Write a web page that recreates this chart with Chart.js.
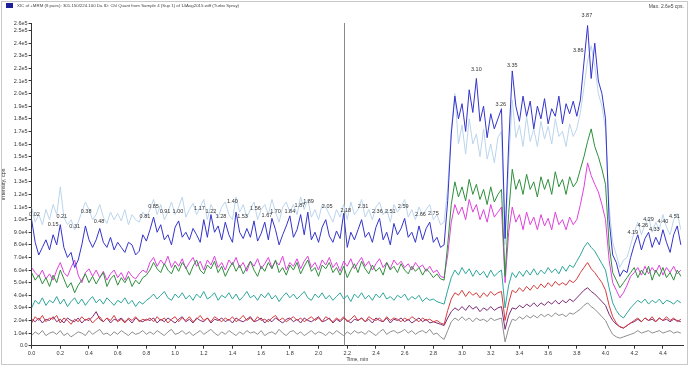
<!DOCTYPE html>
<html>
<head>
<meta charset="utf-8">
<script src="https://cdn.jsdelivr.net/npm/chart.js@4.4.1/dist/chart.umd.min.js"></script>
<style>
  html, body { margin: 0; padding: 0; background: #fff; }
  #wrap { width: 689px; height: 366px; }
</style>
</head>
<body>
<div id="wrap"><canvas id="xicChart" width="689" height="366"></canvas></div>
<script>
// retention time axis (min)
const times = [
  0.000, 0.025, 0.050, 0.075, 0.100, 0.125, 0.150, 0.175, 0.200, 0.225,
  0.250, 0.275, 0.300, 0.325, 0.350, 0.375, 0.400, 0.425, 0.450, 0.475,
  0.500, 0.525, 0.550, 0.575, 0.600, 0.625, 0.650, 0.675, 0.700, 0.725,
  0.750, 0.775, 0.800,
  0.825, 0.850, 0.875, 0.900, 0.925, 0.950, 0.975, 1.000, 1.025, 1.050,
  1.075, 1.100, 1.125, 1.150, 1.175, 1.200, 1.225, 1.250, 1.275, 1.300,
  1.325, 1.350, 1.375, 1.400, 1.425, 1.450, 1.475, 1.500, 1.525, 1.550,
  1.575, 1.600, 1.625, 1.650, 1.675, 1.700, 1.725, 1.750, 1.775, 1.800,
  1.825, 1.850, 1.875, 1.900, 1.925, 1.950, 1.975, 2.000, 2.025, 2.050,
  2.075, 2.100, 2.125, 2.150, 2.175, 2.200, 2.225, 2.250, 2.275, 2.300,
  2.325, 2.350, 2.375, 2.400, 2.425, 2.450, 2.475, 2.500, 2.525, 2.550,
  2.575, 2.600, 2.625, 2.650, 2.675, 2.700, 2.725, 2.750, 2.775, 2.800,
  2.825, 2.850, 2.875,
  2.900, 2.925, 2.950, 2.975, 3.000, 3.025, 3.050, 3.075, 3.100, 3.125,
  3.150, 3.175, 3.200, 3.225, 3.250, 3.275, 3.300, 3.325, 3.350, 3.375,
  3.400, 3.425, 3.450, 3.475, 3.500, 3.525, 3.550, 3.575, 3.600, 3.625,
  3.650, 3.675, 3.700, 3.725, 3.750, 3.775, 3.800, 3.825, 3.850, 3.875,
  3.900, 3.925, 3.950, 3.975, 4.000, 4.025, 4.050, 4.075, 4.100, 4.125,
  4.150, 4.175, 4.200, 4.225, 4.250, 4.275, 4.300, 4.325, 4.350, 4.375,
  4.400, 4.425, 4.450, 4.475, 4.500, 4.525
];

// intensities in thousands of cps, one array per MRM pair
const blueTrace = [
  100, 82, 72, 78, 84, 76, 88, 80, 96, 78, 70, 74, 62, 68, 80, 95, 84, 78, 84, 93,
  82, 78, 86, 76, 82, 78, 74, 82, 80, 72, 75, 88, 83,
  92, 102, 90, 96, 84, 88, 80, 94, 99, 86,
  90, 84, 93, 88, 82, 100, 86, 104, 90, 95,
  84, 98, 88, 82, 106, 90, 85, 93, 86, 99,
  83, 89, 98, 84, 101, 92, 80, 88, 95, 103,
  86, 92, 104, 88, 106, 84, 90, 82, 94, 100,
  87, 82, 91, 85, 105, 78, 90, 84, 92, 100,
  86, 90, 82, 94, 101, 84, 90, 80, 97, 88,
  93, 101, 86, 90, 82, 95, 84, 93, 98, 82,
  86, 78, 80,
  115, 168, 198, 180, 192, 170, 203, 185, 212, 178,
  190, 165, 184, 172, 180, 188, 85, 160, 218, 190,
  178, 198, 182, 194, 172, 190, 180, 196, 176, 188,
  182, 198, 176, 192, 184, 194, 182, 195, 225, 254,
  212, 240, 210, 200, 180, 100, 72, 66, 55, 60,
  58, 70, 80, 88, 76, 85, 90, 78, 86, 80,
  92, 82, 74, 88, 95, 80
];
const lightBlueTrace = [
  110, 98, 104, 96, 108, 100, 112, 104, 126, 102, 96, 100, 92, 98, 106, 114, 108, 100, 104, 112,
  102, 97, 106, 100, 105, 99, 108, 96, 104, 100, 98, 106, 102,
  108, 116, 104, 112, 100, 106, 114, 104, 110, 118,
  102, 108, 113, 104, 110, 116, 100, 112, 106, 102,
  110, 114, 104, 100, 118, 106, 112, 102, 108, 114,
  100, 108, 112, 104, 116, 106, 98, 110, 114, 106,
  112, 104, 118, 108, 116, 102, 108, 100, 112, 110,
  104, 98, 108, 102, 112, 100, 114, 104, 108, 116,
  102, 108, 100, 110, 114, 104, 108, 98, 112, 106,
  110, 116, 102, 108, 100, 110, 104, 108, 112, 100,
  104, 96, 98,
  125, 172, 200, 160, 175, 152, 180, 160, 168, 150,
  172, 148, 160, 145, 165, 170, 80, 145, 195, 165,
  175, 158, 182, 162, 172, 158, 178, 164, 174, 160,
  180, 166, 170, 158, 176, 166, 172, 185, 205, 226,
  238, 222, 200, 190, 172, 110, 82, 72, 62, 68,
  70, 80, 90, 98, 88, 96, 102, 90, 98, 92,
  104, 94, 88, 100, 105, 92
];
const greenTrace = [
  58, 52, 56, 49, 54, 47, 56, 50, 60, 53, 46, 50, 42, 48, 52, 57, 50, 55, 49, 54,
  58, 47, 53, 56, 48, 54, 50, 55, 47, 52, 49, 54, 56,
  60, 66, 61, 58, 65, 60, 57, 64, 59, 66,
  62, 56, 63, 68, 60, 57, 64, 61, 67, 58,
  63, 55, 61, 66, 59, 64, 57, 62, 67, 60,
  55, 63, 59, 66, 61, 68, 58, 62, 56, 64,
  60, 66, 57, 63, 68, 59, 62, 55, 64, 61,
  66, 58, 62, 56, 63, 54, 60, 65, 58, 67,
  61, 57, 64, 59, 62, 56, 66, 60, 63, 58,
  65, 60, 57, 63, 59, 62, 56, 61, 58, 54,
  57, 53, 52,
  80, 112, 130, 118, 126, 115, 132, 120, 128, 116,
  124, 112, 126, 114, 120, 124, 55, 105, 140, 124,
  132, 120, 136, 124, 130, 118, 134, 124, 132, 120,
  138, 126, 132, 120, 134, 126, 130, 140, 150, 162,
  172, 158, 150, 140, 128, 80, 58, 52, 46, 50,
  54, 58, 62, 54, 60, 56, 63, 52, 60, 55,
  62, 54, 58, 52, 60, 55
];
const magentaTrace = [
  62, 58, 55, 60, 53, 57, 52, 60, 66, 58, 55, 62, 68, 56, 50, 58, 61, 55, 60, 54,
  59, 52, 57, 60, 54, 58, 52, 59, 55, 53, 57, 60, 58,
  66, 70, 63, 68, 64, 71, 62, 67, 63, 69,
  61, 66, 70, 63, 67, 60, 68, 64, 71, 62,
  66, 60, 68, 64, 70, 62, 66, 59, 67, 63,
  69, 61, 65, 70, 62, 67, 64, 71, 60, 66,
  63, 69, 61, 67, 71, 62, 66, 60, 68, 64,
  70, 62, 66, 59, 67, 63, 69, 61, 66, 70,
  63, 67, 60, 65, 69, 62, 66, 61, 68, 64,
  67, 62, 65, 60, 66, 62, 64, 59, 63, 58,
  60, 55, 54,
  72, 98, 112, 104, 110, 100, 116, 106, 112, 100,
  108, 98, 112, 102, 106, 110, 50, 90, 110, 98,
  104, 92, 106, 96, 102, 92, 104, 95, 101, 92,
  106, 96, 100, 92, 102, 96, 100, 112, 126, 145,
  135, 128, 122, 112, 100, 68, 50, 44, 38, 42,
  48, 55, 58, 62, 56, 63, 57, 62, 58, 64,
  56, 62, 58, 63, 57, 60
];
const tealTrace = [
  30, 36, 33, 38, 32, 36, 34, 39, 33, 37, 31, 35, 38, 33, 37, 32, 36, 39, 34, 37,
  33, 38, 35, 32, 36, 34, 38, 33, 36, 31, 35, 33, 36,
  38, 41, 37, 40, 43, 38, 36, 41, 38, 42,
  37, 40, 36, 41, 38, 43, 37, 39, 42, 36,
  40, 38, 42, 37, 41, 36, 39, 43, 38, 40,
  36, 41, 38, 42, 37, 40, 35, 39, 42, 38,
  41, 37, 40, 43, 38, 36, 41, 38, 42, 37,
  40, 36, 39, 42, 37, 40, 35, 41, 38, 42,
  37, 40, 36, 41, 38, 42, 37, 39, 36, 40,
  38, 41, 36, 39, 37, 40, 35, 38, 36, 37,
  35, 34, 33,
  44, 54, 60, 56, 62, 57, 61, 55, 60, 56,
  59, 54, 60, 55, 58, 60, 30, 48, 58, 54,
  59, 55, 60, 56, 61, 56, 60, 57, 62, 58,
  61, 57, 63, 59, 64, 62, 67, 72, 78, 82,
  78, 75, 70, 65, 60, 46, 34, 28, 24, 22,
  26, 30, 33, 36, 34, 37, 33, 36, 34, 37,
  33, 36, 35, 33, 36, 34
];
const redTrace = [
  18, 23, 20, 24, 19, 22, 21, 24, 18, 22, 20, 17, 21, 19, 23, 20, 22, 18, 21, 23,
  19, 22, 20, 24, 19, 21, 18, 22, 20, 23, 19, 21, 20,
  22, 19, 23, 20, 22, 18, 21, 23, 19, 22,
  20, 23, 19, 21, 24, 20, 22, 19, 23, 21,
  19, 22, 20, 23, 19, 21, 24, 20, 22, 19,
  23, 20, 21, 19, 22, 24, 20, 22, 19, 21,
  23, 20, 22, 19, 21, 23, 20, 22, 19, 23,
  21, 19, 22, 20, 23, 19, 21, 24, 20, 22,
  19, 23, 21, 20, 22, 19, 23, 20, 22, 21,
  19, 22, 20, 23, 21, 19, 22, 20, 21, 19,
  20, 18, 17,
  28, 37, 42, 40, 44, 39, 43, 40, 42, 38,
  42, 39, 43, 40, 42, 43, 20, 34, 44, 42,
  46, 43, 47, 44, 48, 45, 49, 46, 50, 47,
  51, 48, 50, 48, 52, 50, 53, 58, 62, 66,
  61, 58, 54, 50, 44, 32, 23, 18, 15, 14,
  16, 18, 20, 22, 19, 22, 20, 23, 19, 22,
  20, 23, 20, 22, 19, 21
];
const purpleTrace = [
  21, 19, 22, 18, 21, 20, 23, 19, 21, 18, 22, 20, 19, 22, 18, 21, 20, 23, 27, 21,
  19, 22, 18, 21, 20, 22, 19, 21, 18, 22, 20, 19, 21,
  20, 22, 18, 21, 19, 22, 20, 18, 21, 23,
  19, 21, 18, 22, 20, 19, 22, 18, 21, 20,
  22, 19, 21, 18, 22, 20, 19, 21, 23, 19,
  20, 22, 18, 21, 19, 22, 20, 18, 21, 22,
  19, 21, 18, 22, 20, 19, 21, 23, 19, 20,
  22, 18, 21, 19, 22, 20, 18, 21, 20, 22,
  19, 21, 18, 22, 20, 19, 22, 18, 21, 20,
  22, 19, 21, 18, 20, 22, 19, 21, 18, 19,
  18, 17, 16,
  22, 27, 30, 28, 31, 28, 32, 29, 31, 27,
  30, 28, 31, 28, 30, 31, 13, 24, 30, 29,
  32, 30, 33, 31, 34, 31, 34, 32, 35, 33,
  36, 33, 36, 34, 37, 35, 38, 41, 44, 46,
  43, 41, 38, 35, 32, 25, 20, 17, 15, 14,
  16, 18, 19, 21, 19, 22, 20, 21, 19, 22,
  20, 21, 19, 21, 20, 19
];
const grayTrace = [
  8, 11, 9, 12, 8, 10, 11, 9, 12, 8, 10, 7, 9, 11, 10, 8, 12, 9, 11, 13,
  9, 10, 8, 11, 9, 12, 10, 8, 11, 9, 10, 12, 9,
  11, 9, 12, 10, 8, 11, 13, 9, 10, 12,
  9, 11, 8, 10, 12, 9, 11, 13, 10, 8,
  11, 9, 12, 10, 8, 11, 9, 12, 10, 11,
  9, 12, 8, 10, 11, 9, 13, 10, 8, 11,
  12, 9, 11, 8, 10, 12, 9, 11, 10, 8,
  11, 9, 12, 10, 8, 11, 9, 12, 10, 11,
  9, 12, 10, 8, 11, 13, 9, 11, 12, 10,
  11, 13, 10, 12, 9, 11, 12, 10, 13, 9,
  10, 7, 5,
  12, 19, 22, 20, 23, 20, 22, 19, 22, 20,
  21, 19, 22, 20, 21, 22, 3, 14, 21, 20,
  23, 21, 24, 22, 24, 22, 25, 23, 25, 23,
  26, 24, 25, 23, 26, 25, 27, 29, 32, 34,
  31, 29, 26, 23, 20, 14, 9, 7, 6, 7,
  8, 9, 10, 12, 10, 11, 12, 10, 11, 12,
  10, 11, 12, 10, 11, 10
];

// peak apex labels: text, time, height (thousands of cps)
const peakText = ['0.02', '0.15', '0.21', '0.31', '0.38', '0.48', '0.81', '0.85', '0.91', '1.00',
  '1.17', '1.22', '1.28', '1.40', '1.53', '1.56', '1.67', '1.70', '1.84', '1.87', '1.89', '2.05',
  '2.18', '2.31', '2.36', '2.51', '2.59', '2.66', '2.75', '3.10', '3.26', '3.35', '3.86', '3.87',
  '4.19', '4.26', '4.29', '4.33', '4.40', '4.51'];
const peakTime = [0.02, 0.15, 0.21, 0.30, 0.38, 0.47, 0.79, 0.85, 0.93, 1.02,
  1.17, 1.25, 1.32, 1.40, 1.47, 1.56, 1.64, 1.70, 1.80, 1.87, 1.93, 2.06,
  2.19, 2.31, 2.41, 2.50, 2.59, 2.71, 2.80, 3.10, 3.27, 3.35, 3.81, 3.87,
  4.19, 4.26, 4.30, 4.34, 4.40, 4.48];
const peakLevel = [102, 94, 100, 92, 104, 96, 100, 108, 104, 104,
  107, 104, 100, 112, 100, 107, 101, 104, 104, 109, 112, 108,
  105, 108, 104, 104, 108, 102, 103, 217, 189, 220, 232, 260,
  88, 93, 98, 90, 96, 100];

const MARKER_TIME = 2.18;
const Y_MAX = 256000;
const X_MAX = 4.54;
const K = 1000;

const traces = [
  { name: 'pair 1', values: blueTrace, color: '#3434cc' },
  { name: 'pair 2', values: greenTrace, color: '#2f8f3c' },
  { name: 'pair 3', values: magentaTrace, color: '#e040dc' },
  { name: 'pair 4', values: redTrace, color: '#d63c3c' },
  { name: 'pair 5', values: purpleTrace, color: '#7c2a76' },
  { name: 'pair 6', values: tealTrace, color: '#2fa69b' },
  { name: 'pair 7', values: grayTrace, color: '#8e8e8e' },
  { name: 'pair 8', values: lightBlueTrace, color: '#bcd5ec' },
];

const FONT = "'Liberation Sans', Arial, sans-serif";
Chart.defaults.font.family = FONT;
Chart.defaults.font.size = 6;
Chart.defaults.color = '#333';

// frame, header text, marker line and peak labels
const decorations = {
  id: 'decorations',
  beforeDatasetsDraw(chart) {
    const { ctx, chartArea, scales } = chart;
    const x = Math.round(scales.x.getPixelForValue(MARKER_TIME)) + 0.5;
    ctx.save();
    ctx.strokeStyle = '#8a8a8a';
    ctx.lineWidth = 1;
    ctx.beginPath();
    ctx.moveTo(x, chartArea.top);
    ctx.lineTo(x, chartArea.bottom);
    ctx.stroke();
    ctx.restore();
  },
  afterDatasetsDraw(chart) {
    const { ctx, scales } = chart;
    ctx.save();
    ctx.fillStyle = '#333';
    ctx.font = '5.5px ' + FONT;
    ctx.textAlign = 'center';
    ctx.textBaseline = 'bottom';
    peakText.forEach((txt, i) => {
      ctx.fillText(txt, scales.x.getPixelForValue(peakTime[i]), scales.y.getPixelForValue(peakLevel[i] * K));
    });
    ctx.restore();
  },
  afterDraw(chart) {
    const { ctx, width, height } = chart;
    ctx.save();
    ctx.strokeStyle = '#c9c9c9';
    ctx.lineWidth = 1;
    ctx.strokeRect(1.5, 1.5, width - 3, height - 3);

    // header
    ctx.fillStyle = '#1f1f9a';
    ctx.fillRect(6, 3, 7, 5);
    const header = 'XIC of +MRM (8 pairs): 301.150/224.100 Da ID: Chl Quant from Sample 4 (Sup 1) of 14Aug2015.wiff (Turbo Spray)';
    ctx.font = '10px ' + FONT;
    const w10 = ctx.measureText(header).width;
    ctx.font = (10 * 222 / w10).toFixed(2) + 'px ' + FONT;
    ctx.fillStyle = '#444';
    ctx.textBaseline = 'middle';
    ctx.textAlign = 'left';
    ctx.fillText(header, 17, 6);
    ctx.font = '5px ' + FONT;
    ctx.textAlign = 'right';
    ctx.fillText('Max. 2.6e5 cps.', 684, 7);
    ctx.restore();
  }
};

new Chart(document.getElementById('xicChart'), {
  type: 'line',
  data: {
    datasets: traces.map(tr => ({
      label: tr.name,
      data: times.map((t, i) => ({ x: t, y: tr.values[i] * K })),
      borderColor: tr.color,
      borderWidth: 1,
      pointRadius: 0,
      tension: 0,
      fill: false,
    })),
  },
  options: {
    responsive: false,
    animation: false,
    events: [],
    layout: { padding: { top: 23, right: 6, left: 0, bottom: 0 } },
    plugins: { legend: { display: false }, tooltip: { enabled: false } },
    scales: {
      x: {
        type: 'linear',
        min: 0,
        max: X_MAX,
        afterBuildTicks: s => {
          const t = [];
          for (let i = 0; i <= 22; i++) t.push({ value: i / 5 });
          s.ticks = t;
        },
        afterFit: s => { s.height = 20.3; },
        grid: { drawOnChartArea: false, drawTicks: true, tickLength: 3, color: '#333' },
        border: { display: true, color: '#333' },
        ticks: { autoSkip: false, maxRotation: 0, padding: 1, font: { size: 5.5 }, callback: v => v.toFixed(1) },
        title: { display: true, text: 'Time, min', font: { size: 5 }, padding: { top: 0, bottom: 3 } },
      },
      y: {
        min: 0,
        max: Y_MAX,
        afterBuildTicks: s => {
          const t = [];
          for (let v = 0; v <= 250000; v += 10000) t.push({ value: v });
          t.push({ value: Y_MAX });
          s.ticks = t;
        },
        afterFit: s => { s.width = 31.6; },
        grid: { drawOnChartArea: false, drawTicks: true, tickLength: 3, color: '#333' },
        border: { display: true, color: '#333' },
        ticks: {
          autoSkip: false,
          padding: 1,
          font: { size: 5.5 },
          callback: v => (v === 0 ? '0.0' : Number(v).toExponential(1).replace('+', '')),
        },
        title: { display: true, text: 'Intensity, cps', font: { size: 5.5 }, padding: { top: 0, bottom: 0 } },
      },
    },
  },
  plugins: [decorations],
});
</script>
</body>
</html>
